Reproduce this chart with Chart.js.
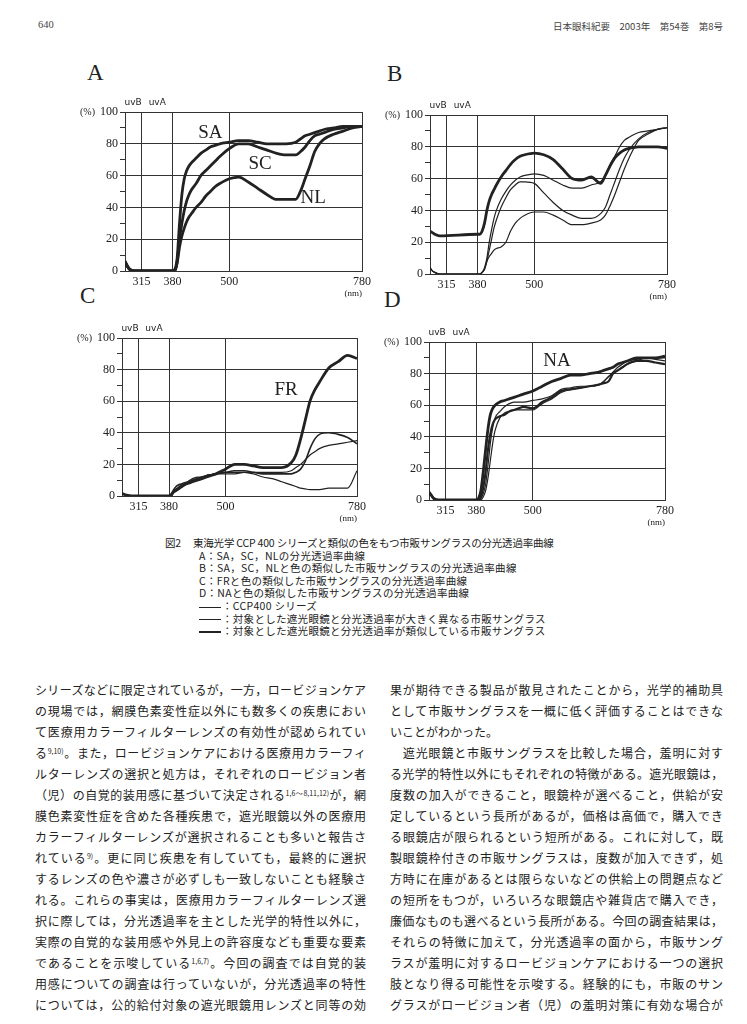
<!DOCTYPE html>
<html lang="ja">
<head>
<meta charset="UTF-8">
<title>図2 分光透過率曲線</title>
<script src="https://cdn.jsdelivr.net/npm/chart.js"></script>
<style>
  body { margin: 0; background: #fff; color: #222; font-family: "Liberation Serif", "Noto Sans CJK JP", serif; }
  .page { position: relative; width: 747px; height: 1024px; overflow: hidden; }
  .box { position: absolute; }
  .letter { position: absolute; font-size: 23px; line-height: 23px; font-family: "Liberation Serif", serif; }
  .head { position: absolute; top: 19px; font-size: 10.5px; color: #444; }
  .cap { position: absolute; left: 165px; top: 537px; font-size: 10.5px; line-height: 12.6px; letter-spacing: 0.3px; font-family: "Noto Sans CJK JP", sans-serif; white-space: nowrap; }
  .cap .first { letter-spacing: -0.2px; }
  .cap .fig { display: inline-block; width: 28px; }
  .cap .sub { padding-left: 34px; }
  .cap .dash { display: inline-block; width: 22px; vertical-align: middle; border-top: 1px solid #222; margin-right: 1px; }
  .col { position: absolute; top: 679px; font-size: 12px; font-family: "Noto Sans CJK JP", sans-serif; }
  .col div { height: 21px; line-height: 21px; text-align: justify; text-align-last: justify; }
  .col div.last { text-align-last: left; }
  .col sup { font-size: 7px; vertical-align: 4px; line-height: 0; }
</style>
</head>
<body>
<div class="page">
  <div class="head" style="left:38px;">640</div>
  <div class="head" style="right:24px; font-size:9.5px; font-family:'Noto Sans CJK JP';">日本眼科紀要　2003年　第54巻　第8号</div>

  <div class="letter" style="left:87px; top:61px;">A</div>
  <div class="letter" style="left:387px; top:62px;">B</div>
  <div class="letter" style="left:80px; top:284px;">C</div>
  <div class="letter" style="left:384px; top:288px;">D</div>

  <div class="box" style="left:75px; top:92px; width:305px; height:211px;"><canvas id="chartA"></canvas></div>
  <div class="box" style="left:380px; top:95px; width:305px; height:211px;"><canvas id="chartB"></canvas></div>
  <div class="box" style="left:72px; top:318px; width:303px; height:210px;"><canvas id="chartC"></canvas></div>
  <div class="box" style="left:379px; top:322px; width:304px; height:210px;"><canvas id="chartD"></canvas></div>

  <div class="cap">
    <div class="first"><span class="fig">図2</span>東海光学 CCP 400 シリーズと類似の色をもつ市販サングラスの分光透過率曲線</div>
    <div class="sub">A：SA，SC，NLの分光透過率曲線</div>
    <div class="sub">B：SA，SC，NLと色の類似した市販サングラスの分光透過率曲線</div>
    <div class="sub">C：FRと色の類似した市販サングラスの分光透過率曲線</div>
    <div class="sub">D：NAと色の類似した市販サングラスの分光透過率曲線</div>
    <div class="sub"><span class="dash" style="border-top-width:1.5px;"></span>：CCP400 シリーズ</div>
    <div class="sub"><span class="dash" style="border-top-width:1px;"></span>：対象とした遮光眼鏡と分光透過率が大きく異なる市販サングラス</div>
    <div class="sub"><span class="dash" style="border-top-width:2.5px;"></span>：対象とした遮光眼鏡と分光透過率が類似している市販サングラス</div>
  </div>

  <div class="col" style="left:35px; width:331px;">
    <div>シリーズなどに限定されているが，一方，ロービジョンケア</div>
    <div>の現場では，網膜色素変性症以外にも数多くの疾患におい</div>
    <div>て医療用カラーフィルターレンズの有効性が認められてい</div>
    <div>る<sup>9,10)</sup>。また，ロービジョンケアにおける医療用カラーフィ</div>
    <div>ルターレンズの選択と処方は，それぞれのロービジョン者</div>
    <div>（児）の自覚的装用感に基づいて決定される<sup>1,6〜8,11,12)</sup>が，網</div>
    <div>膜色素変性症を含めた各種疾患で，遮光眼鏡以外の医療用</div>
    <div>カラーフィルターレンズが選択されることも多いと報告さ</div>
    <div>れている<sup>9)</sup>。更に同じ疾患を有していても，最終的に選択</div>
    <div>するレンズの色や濃さが必ずしも一致しないことも経験さ</div>
    <div>れる。これらの事実は，医療用カラーフィルターレンズ選</div>
    <div>択に際しては，分光透過率を主とした光学的特性以外に，</div>
    <div>実際の自覚的な装用感や外見上の許容度なども重要な要素</div>
    <div>であることを示唆している<sup>1,6,7)</sup>。今回の調査では自覚的装</div>
    <div>用感についての調査は行っていないが，分光透過率の特性</div>
    <div>については，公的給付対象の遮光眼鏡用レンズと同等の効</div>
  </div>

  <div class="col" style="left:390px; width:333px;">
    <div>果が期待できる製品が散見されたことから，光学的補助具</div>
    <div>として市販サングラスを一概に低く評価することはできな</div>
    <div class="last">いことがわかった。</div>
    <div>　遮光眼鏡と市販サングラスを比較した場合，羞明に対す</div>
    <div style="letter-spacing:-0.2px;">る光学的特性以外にもそれぞれの特徴がある。遮光眼鏡は，</div>
    <div>度数の加入ができること，眼鏡枠が選べること，供給が安</div>
    <div>定しているという長所があるが，価格は高価で，購入でき</div>
    <div>る眼鏡店が限られるという短所がある。これに対して，既</div>
    <div>製眼鏡枠付きの市販サングラスは，度数が加入できず，処</div>
    <div>方時に在庫があるとは限らないなどの供給上の問題点など</div>
    <div>の短所をもつが，いろいろな眼鏡店や雑貨店で購入でき，</div>
    <div>廉価なものも選べるという長所がある。今回の調査結果は，</div>
    <div>それらの特徴に加えて，分光透過率の面から，市販サング</div>
    <div>ラスが羞明に対するロービジョンケアにおける一つの選択</div>
    <div>肢となり得る可能性を示唆する。経験的にも，市販のサン</div>
    <div>グラスがロービジョン者（児）の羞明対策に有効な場合が</div>
  </div>
</div>

<script>
  // wavelength grid (nm) shared by every curve, and the labelled ticks
  const wavelengths = [280, 285, 290, 300, 380, 385, 390, 395, 400, 405,
                       410, 415, 420, 430, 440, 450, 460, 470, 480, 500,
                       520, 540, 560, 580, 600, 620, 640, 650, 660, 670,
                       680, 690, 700, 720, 740, 760, 780];
  const xTicks = [315, 380, 500, 780];

  // A: CCP400 SA, SC, NL  (transmittance %)
  const aSA = [6, 3, 1, 0, 0, 1, 8, 30, 48, 58, 63, 66, 68, 71, 74, 76, 78, 79, 80, 81,
               82, 82, 81, 80, 80, 80, 81, 83, 85, 86, 87, 88, 89, 90, 91, 91, 91];
  const aSC = [6, 3, 1, 0, 0, 0, 6, 20, 30, 38, 44, 48, 51, 55, 60, 63, 66, 69, 72, 77,
               80, 80, 78, 76, 74, 73, 73, 75, 78, 82, 85, 86, 87, 89, 90, 91, 91];
  const aNL = [6, 3, 1, 0, 0, 0, 5, 15, 22, 27, 31, 34, 36, 40, 43, 47, 50, 53, 55, 58,
               59, 56, 52, 48, 45, 45, 45, 50, 58, 66, 75, 80, 83, 86, 88, 90, 91];

  // B: sunglasses similar in colour to SA/SC/NL
  const b1 = [27, 26, 25, 24, 25, 25, 27, 32, 40, 46, 50, 53, 56, 61, 65, 69, 72, 74, 75, 76,
              75, 72, 66, 60, 59, 61, 57, 62, 68, 73, 76, 78, 79, 80, 80, 80, 79];
  const b2 = [4, 2, 1, 0, 0, 0, 1, 4, 10, 20, 28, 35, 40, 47, 52, 56, 59, 61, 62, 63,
              62, 59, 56, 54, 54, 56, 58, 62, 69, 74, 80, 84, 86, 89, 90, 91, 92];
  const b3 = [4, 2, 1, 0, 0, 0, 1, 3, 8, 15, 22, 29, 34, 42, 48, 53, 56, 58, 58, 57,
              51, 45, 40, 37, 35, 35, 38, 42, 50, 58, 66, 73, 78, 85, 89, 91, 92];
  const b4 = [4, 2, 1, 0, 0, 0, 1, 3, 8, 11, 13, 15, 16, 17, 20, 27, 32, 35, 37, 39,
              39, 37, 34, 31, 31, 32, 34, 37, 43, 50, 58, 66, 73, 84, 88, 91, 92];

  // C: FR and similar sunglasses
  const cFR = [1.5, 1, 0.5, 0, 0, 1, 3, 4, 5, 6, 7, 7.5, 8, 9, 10, 11, 12, 13, 14, 17,
               20, 20, 19, 18, 18, 18, 21, 26, 36, 48, 60, 67, 72, 81, 85, 89, 87];
  const c2 = [1.5, 1, 0.5, 0, 0, 1, 4, 6, 7, 7.5, 8, 8.5, 9, 10, 11, 12, 13, 13.5, 14, 15,
              16, 16, 15, 14, 14, 14, 14, 15, 17, 22, 30, 36, 39, 40, 39, 37, 33];
  const c3 = [1.5, 1, 0.5, 0, 0, 0, 2, 3, 4, 5, 6, 7, 8, 10, 11, 12, 13, 13.5, 14, 15,
              15, 15, 15, 15, 15, 15, 16, 18, 20, 23, 26, 28, 30, 32, 33, 34, 35];
  const c4 = [1.5, 1, 0.5, 0, 0, 0, 2, 3, 4, 5, 6, 7, 9, 11, 12, 12, 13, 13.5, 14, 14,
              14, 15, 14, 12, 11, 9, 7, 6, 5, 4.5, 4, 4, 4, 5, 5, 5, 16];

  // D: NA and similar sunglasses
  const dNA = [5, 3, 1, 0, 0, 1, 6, 18, 32, 45, 54, 58, 60, 62, 63, 64, 65, 66, 67, 69,
               72, 75, 77, 79, 79, 80, 81, 82, 83, 84, 86, 87, 88, 90, 90, 90, 91];
  const d2 = [5, 3, 1, 0, 0, 0, 2, 8, 18, 32, 42, 48, 51, 53, 54, 56, 57, 58, 59, 58,
              62, 65, 69, 70, 71, 72, 73, 74, 75, 80, 82, 84, 86, 88, 88, 87, 86];
  const d3 = [5, 3, 1, 0, 0, 0, 1, 4, 10, 22, 36, 46, 52, 56, 59, 61, 62, 62, 62, 63,
              64, 66, 70, 71, 72, 72, 73, 75, 78, 81, 84, 86, 88, 89, 90, 90, 90];
  const d4 = [5, 3, 1, 0, 0, 0, 0, 2, 6, 14, 25, 36, 44, 52, 55, 56, 57, 57, 57, 57,
              61, 64, 68, 70, 71, 72, 73, 75, 78, 80, 82, 84, 86, 88, 90, 89, 88];

  const INK = '#222';
  const THICK = 2.8;
  const THIN = 1.2;

  // extra texts around the plot: uvB/uvA bands, units, curve names
  const pageText = {
    id: 'pageText',
    afterDraw(chart, args, opts) {
      const { ctx, chartArea: a, scales: { x, y } } = chart;
      ctx.save();
      ctx.fillStyle = INK;
      ctx.font = '9px "DejaVu Sans"';
      ctx.textAlign = 'center';
      ctx.textBaseline = 'bottom';
      ctx.fillText('uvB', x.getPixelForValue(297), a.top - 5);
      ctx.fillText('uvA', x.getPixelForValue(348), a.top - 5);
      ctx.font = '10px "Liberation Serif"';
      ctx.textAlign = 'right';
      ctx.textBaseline = 'middle';
      ctx.fillText('(%)', a.left - 30, a.top);
      ctx.font = '9px "Liberation Serif"';
      ctx.textBaseline = 'top';
      ctx.fillText('(nm)', a.right, a.bottom + 18);
      ctx.font = '19px "Liberation Serif"';
      ctx.textAlign = 'center';
      ctx.textBaseline = 'middle';
      (opts.names || []).forEach(n => {
        ctx.fillText(n.text, x.getPixelForValue(n.x), y.getPixelForValue(n.y));
      });
      ctx.restore();
    }
  };

  function series(values, width) {
    return {
      data: wavelengths.map((w, i) => ({ x: w, y: values[i] })),
      borderColor: INK,
      borderWidth: width,
      pointRadius: 0,
      cubicInterpolationMode: 'monotone',
      fill: false
    };
  }

  function drawPanel(id, datasets, names) {
    const tickFont = { family: 'Liberation Serif', size: 12 };
    new Chart(document.getElementById(id), {
      type: 'line',
      data: { datasets: datasets },
      plugins: [pageText],
      options: {
        responsive: true,
        maintainAspectRatio: false,
        animation: false,
        layout: { padding: { top: 20, right: 18, left: 0, bottom: 0 } },
        plugins: {
          legend: { display: false },
          tooltip: { enabled: false },
          pageText: { names: names }
        },
        scales: {
          x: {
            type: 'linear',
            min: 280,
            max: 780,
            afterBuildTicks: s => { s.ticks = xTicks.map(v => ({ value: v })); },
            afterFit: s => { s.height = 32; },
            ticks: { callback: v => String(v), autoSkip: false, maxRotation: 0, padding: 4, font: tickFont, color: INK },
            grid: { color: '#333', lineWidth: 1, drawTicks: false },
            border: { color: '#333', width: 1 }
          },
          y: {
            min: 0,
            max: 100,
            afterFit: s => { s.width = 50; },
            ticks: { stepSize: 10, autoSkip: false, callback: v => (v % 20 === 0 ? v : ''), padding: 2, font: tickFont, color: INK },
            grid: {
              color: c => (c.tick && c.tick.value % 20 === 0 ? '#333' : 'rgba(0,0,0,0)'),
              tickColor: '#333',
              tickLength: 5,
              lineWidth: 1
            },
            border: { color: '#333', width: 1 }
          }
        }
      }
    });
  }

  drawPanel('chartA', [series(aSA, THICK), series(aSC, THICK), series(aNL, THICK)], [
    { text: 'SA', x: 460, y: 87 },
    { text: 'SC', x: 565, y: 67 },
    { text: 'NL', x: 677, y: 46 }
  ]);
  drawPanel('chartB', [series(b1, THICK), series(b2, THIN), series(b3, THIN), series(b4, THIN)], []);
  drawPanel('chartC', [series(cFR, THICK), series(c2, 1.6), series(c3, THIN), series(c4, THIN)], [
    { text: 'FR', x: 629, y: 67 }
  ]);
  drawPanel('chartD', [series(dNA, THICK), series(d2, 2.2), series(d3, THIN), series(d4, THIN)], [
    { text: 'NA', x: 551, y: 88 }
  ]);
</script>
</body>
</html>
